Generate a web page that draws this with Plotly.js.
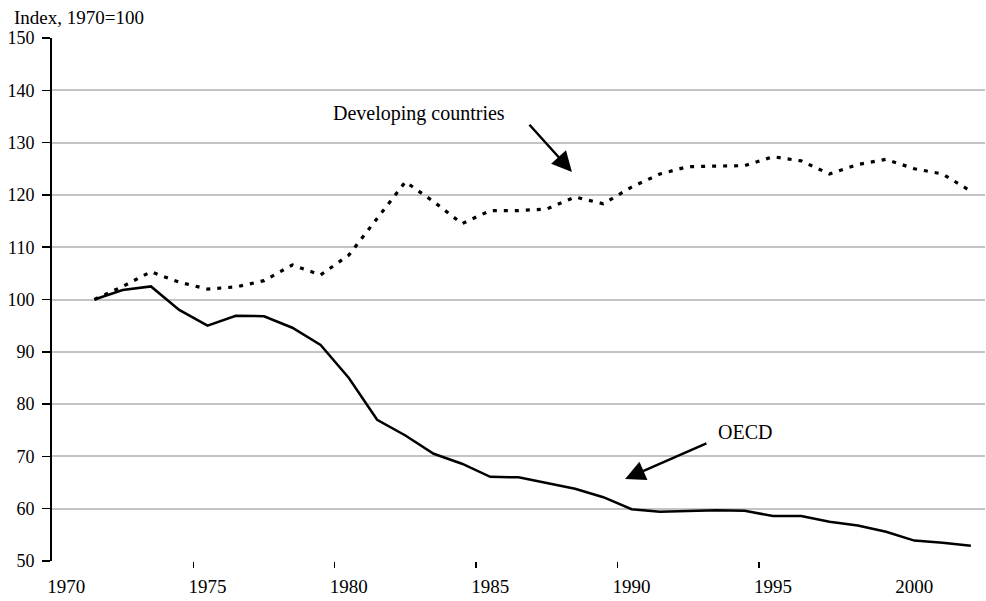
<!DOCTYPE html>
<html>
<head>
<meta charset="utf-8">
<script src="https://cdn.plot.ly/plotly-3.0.1.min.js"></script>
<style>html,body{margin:0;padding:0;background:#fff;}#chart{width:986px;height:601px;}</style>
</head>
<body>
<div id="chart"></div>
<script>
const years = [1971,1972,1973,1974,1975,1976,1977,1978,1979,1980,1981,1982,1983,1984,1985,1986,1987,1988,1989,1990,1991,1992,1993,1994,1995,1996,1997,1998,1999,2000,2001,2002];
const oecd = [100,101.8,102.5,98,95,96.9,96.8,94.6,91.3,85,77,74,70.5,68.6,66.1,66,64.9,63.8,62.2,59.9,59.4,59.6,59.7,59.6,58.6,58.6,57.5,56.8,55.6,53.9,53.5,52.9];
const developing = [100,102.5,105.3,103.3,102,102.4,103.6,106.6,104.7,108.5,115.5,122.5,118.7,114.5,117,117,117.3,119.6,118.3,121.5,124,125.4,125.5,125.6,127.3,126.5,124,125.8,126.8,125,124,120.7];
const xTickYears = [1970,1975,1980,1985,1990,1995,2000];
const xTickLabels = ['1970','1975','1980','1985','1990','1995','2000'];
const xBoundaryTicks = [1974.5,1979.5,1984.5,1989.5,1994.5];
const yTicks = [50,60,70,80,90,100,110,120,130,140,150];

const serif = 'Liberation Serif, Times New Roman, serif';

const traces = [
  {x: years, y: developing, type: 'scatter', mode: 'lines', name: 'Developing countries',
   line: {color: '#000', width: 3.2, dash: '4px,7px'}},
  {x: years, y: oecd, type: 'scatter', mode: 'lines', name: 'OECD',
   line: {color: '#000', width: 2.5}}
];

const layout = {
  width: 986, height: 601,
  margin: {l: 52, r: 1, t: 38, b: 40},
  paper_bgcolor: '#fff', plot_bgcolor: '#fff',
  showlegend: false,
  font: {family: serif, color: '#000', size: 18},
  xaxis: {
    range: [1969.5, 2002.5],
    tickmode: 'array', tickvals: xTickYears, ticktext: xTickLabels,
    ticks: 'outside', ticklen: 8, tickcolor: 'rgba(0,0,0,0)',
    tickfont: {family: serif, size: 19, color: '#000'},
    showgrid: false, zeroline: false, showline: false,
    minor: {tickmode: 'array', tickvals: xBoundaryTicks, ticks: 'outside', ticklen: 6, tickwidth: 1.5, tickcolor: '#000', showgrid: false}
  },
  yaxis: {
    range: [50, 150],
    tickmode: 'array', tickvals: yTicks,
    ticks: 'outside', ticklen: 8, tickwidth: 1.5, tickcolor: '#000',
    tickfont: {family: serif, size: 18, color: '#000'},
    ticklabelstandoff: 4,
    showgrid: true, gridcolor: '#c4c4c4', gridwidth: 2,
    zeroline: false, showline: true, linecolor: '#000', linewidth: 2
  },
  annotations: [
    {xref: 'paper', yref: 'paper', x: -0.043, y: 1.040, xanchor: 'left', yanchor: 'middle',
     text: 'Index, 1970=100', showarrow: false, font: {family: serif, size: 19, color: '#000'}},
    {xref: 'x', yref: 'y', x: 1982.48, y: 135.5, text: 'Developing countries', showarrow: false,
     font: {family: serif, size: 20, color: '#000'}},
    {xref: 'x', yref: 'y', x: 1994.0, y: 74.7, text: 'OECD', showarrow: false,
     font: {family: serif, size: 20, color: '#000'}},
    {xref: 'x', yref: 'y', axref: 'x', ayref: 'y', x: 1987.89, y: 124.4, ax: 1986.34, ay: 133.7,
     text: '', showarrow: true, arrowhead: 2, arrowsize: 1.6, arrowwidth: 2.5, arrowcolor: '#000'},
    {xref: 'x', yref: 'y', axref: 'x', ayref: 'y', x: 1989.77, y: 65.7, ax: 1992.7, ay: 72.6,
     text: '', showarrow: true, arrowhead: 2, arrowsize: 1.6, arrowwidth: 2.5, arrowcolor: '#000'}
  ]
};

Plotly.newPlot('chart', traces, layout, {displayModeBar: false, staticPlot: true});
</script>
</body>
</html>
